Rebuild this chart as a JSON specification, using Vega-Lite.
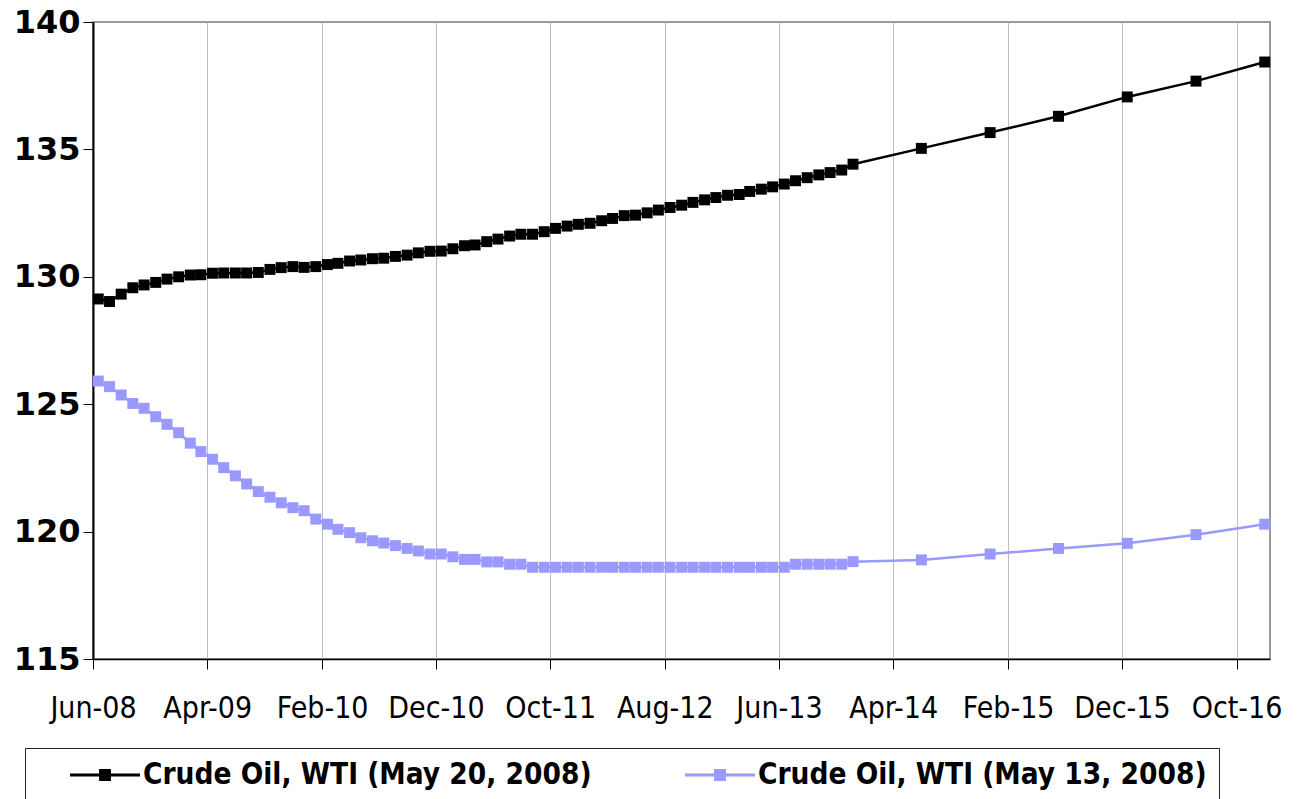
{
  "$schema": "https://vega.github.io/schema/vega-lite/v6.json",
  "width": 1177,
  "height": 637,
  "autosize": {"type": "none"},
  "padding": {"left": 93, "top": 22, "right": 32, "bottom": 140},
  "background": "white",
  "config": {"view": {"stroke": "#9a9a9a", "strokeWidth": 2}},
  "data": {"values": [
    {"date": "2008-06-15", "May 20, 2008": 129.13, "May 13, 2008": 125.91},
    {"date": "2008-07-15", "May 20, 2008": 129.03, "May 13, 2008": 125.69},
    {"date": "2008-08-15", "May 20, 2008": 129.32, "May 13, 2008": 125.36},
    {"date": "2008-09-15", "May 20, 2008": 129.57, "May 13, 2008": 125.03},
    {"date": "2008-10-15", "May 20, 2008": 129.68, "May 13, 2008": 124.84},
    {"date": "2008-11-15", "May 20, 2008": 129.78, "May 13, 2008": 124.51},
    {"date": "2008-12-15", "May 20, 2008": 129.91, "May 13, 2008": 124.21},
    {"date": "2009-01-15", "May 20, 2008": 130.00, "May 13, 2008": 123.88},
    {"date": "2009-02-15", "May 20, 2008": 130.07, "May 13, 2008": 123.47},
    {"date": "2009-03-15", "May 20, 2008": 130.08, "May 13, 2008": 123.14},
    {"date": "2009-04-15", "May 20, 2008": 130.14, "May 13, 2008": 122.84},
    {"date": "2009-05-15", "May 20, 2008": 130.15, "May 13, 2008": 122.51},
    {"date": "2009-06-15", "May 20, 2008": 130.15, "May 13, 2008": 122.19},
    {"date": "2009-07-15", "May 20, 2008": 130.15, "May 13, 2008": 121.87},
    {"date": "2009-08-15", "May 20, 2008": 130.17, "May 13, 2008": 121.57},
    {"date": "2009-09-15", "May 20, 2008": 130.29, "May 13, 2008": 121.35},
    {"date": "2009-10-15", "May 20, 2008": 130.36, "May 13, 2008": 121.13},
    {"date": "2009-11-15", "May 20, 2008": 130.40, "May 13, 2008": 120.94},
    {"date": "2009-12-15", "May 20, 2008": 130.37, "May 13, 2008": 120.82},
    {"date": "2010-01-15", "May 20, 2008": 130.40, "May 13, 2008": 120.49},
    {"date": "2010-02-15", "May 20, 2008": 130.48, "May 13, 2008": 120.29},
    {"date": "2010-03-15", "May 20, 2008": 130.53, "May 13, 2008": 120.09},
    {"date": "2010-04-15", "May 20, 2008": 130.62, "May 13, 2008": 119.96},
    {"date": "2010-05-15", "May 20, 2008": 130.66, "May 13, 2008": 119.76},
    {"date": "2010-06-15", "May 20, 2008": 130.71, "May 13, 2008": 119.64},
    {"date": "2010-07-15", "May 20, 2008": 130.73, "May 13, 2008": 119.55},
    {"date": "2010-08-15", "May 20, 2008": 130.80, "May 13, 2008": 119.45},
    {"date": "2010-09-15", "May 20, 2008": 130.85, "May 13, 2008": 119.34},
    {"date": "2010-10-15", "May 20, 2008": 130.94, "May 13, 2008": 119.24},
    {"date": "2010-11-15", "May 20, 2008": 131.00, "May 13, 2008": 119.12},
    {"date": "2010-12-15", "May 20, 2008": 131.01, "May 13, 2008": 119.12},
    {"date": "2011-01-15", "May 20, 2008": 131.10, "May 13, 2008": 119.01},
    {"date": "2011-02-15", "May 20, 2008": 131.22, "May 13, 2008": 118.91},
    {"date": "2011-03-15", "May 20, 2008": 131.25, "May 13, 2008": 118.91},
    {"date": "2011-04-15", "May 20, 2008": 131.38, "May 13, 2008": 118.81},
    {"date": "2011-05-15", "May 20, 2008": 131.48, "May 13, 2008": 118.81},
    {"date": "2011-06-15", "May 20, 2008": 131.60, "May 13, 2008": 118.72},
    {"date": "2011-07-15", "May 20, 2008": 131.67, "May 13, 2008": 118.72},
    {"date": "2011-08-15", "May 20, 2008": 131.67, "May 13, 2008": 118.60},
    {"date": "2011-09-15", "May 20, 2008": 131.77, "May 13, 2008": 118.60},
    {"date": "2011-10-15", "May 20, 2008": 131.90, "May 13, 2008": 118.60},
    {"date": "2011-11-15", "May 20, 2008": 131.99, "May 13, 2008": 118.60},
    {"date": "2011-12-15", "May 20, 2008": 132.06, "May 13, 2008": 118.60},
    {"date": "2012-01-15", "May 20, 2008": 132.10, "May 13, 2008": 118.60},
    {"date": "2012-02-15", "May 20, 2008": 132.20, "May 13, 2008": 118.60},
    {"date": "2012-03-15", "May 20, 2008": 132.29, "May 13, 2008": 118.60},
    {"date": "2012-04-15", "May 20, 2008": 132.40, "May 13, 2008": 118.60},
    {"date": "2012-05-15", "May 20, 2008": 132.42, "May 13, 2008": 118.60},
    {"date": "2012-06-15", "May 20, 2008": 132.51, "May 13, 2008": 118.60},
    {"date": "2012-07-15", "May 20, 2008": 132.62, "May 13, 2008": 118.60},
    {"date": "2012-08-15", "May 20, 2008": 132.72, "May 13, 2008": 118.60},
    {"date": "2012-09-15", "May 20, 2008": 132.81, "May 13, 2008": 118.60},
    {"date": "2012-10-15", "May 20, 2008": 132.92, "May 13, 2008": 118.60},
    {"date": "2012-11-15", "May 20, 2008": 133.02, "May 13, 2008": 118.60},
    {"date": "2012-12-15", "May 20, 2008": 133.11, "May 13, 2008": 118.60},
    {"date": "2013-01-15", "May 20, 2008": 133.20, "May 13, 2008": 118.60},
    {"date": "2013-02-15", "May 20, 2008": 133.23, "May 13, 2008": 118.60},
    {"date": "2013-03-15", "May 20, 2008": 133.35, "May 13, 2008": 118.60},
    {"date": "2013-04-15", "May 20, 2008": 133.44, "May 13, 2008": 118.60},
    {"date": "2013-05-15", "May 20, 2008": 133.53, "May 13, 2008": 118.60},
    {"date": "2013-06-15", "May 20, 2008": 133.64, "May 13, 2008": 118.60},
    {"date": "2013-07-15", "May 20, 2008": 133.77, "May 13, 2008": 118.72},
    {"date": "2013-08-15", "May 20, 2008": 133.89, "May 13, 2008": 118.72},
    {"date": "2013-09-15", "May 20, 2008": 134.00, "May 13, 2008": 118.72},
    {"date": "2013-10-15", "May 20, 2008": 134.09, "May 13, 2008": 118.72},
    {"date": "2013-11-15", "May 20, 2008": 134.19, "May 13, 2008": 118.72},
    {"date": "2013-12-15", "May 20, 2008": 134.42, "May 13, 2008": 118.82},
    {"date": "2014-06-15", "May 20, 2008": 135.04, "May 13, 2008": 118.89},
    {"date": "2014-12-15", "May 20, 2008": 135.66, "May 13, 2008": 119.12},
    {"date": "2015-06-15", "May 20, 2008": 136.30, "May 13, 2008": 119.34},
    {"date": "2015-12-15", "May 20, 2008": 137.06, "May 13, 2008": 119.54},
    {"date": "2016-06-15", "May 20, 2008": 137.68, "May 13, 2008": 119.88},
    {"date": "2016-12-15", "May 20, 2008": 138.43, "May 13, 2008": 120.29}
  ]},
  "transform": [{"fold": ["May 20, 2008", "May 13, 2008"], "as": ["series", "price"]}],
  "mark": {"type": "line", "strokeWidth": 2.5, "point": {"shape": "square", "size": 120, "filled": true}},
  "encoding": {
    "x": {
      "field": "date",
      "type": "temporal",
      "scale": {"type": "utc", "domain": [{"year": 2008, "month": 6, "date": 1, "utc": true}, {"year": 2016, "month": 12, "date": 29, "utc": true}]},
      "axis": {
        "title": null,
        "values": [
          {"year": 2008, "month": 6, "date": 1, "utc": true},
          {"year": 2009, "month": 4, "date": 1, "utc": true},
          {"year": 2010, "month": 2, "date": 1, "utc": true},
          {"year": 2010, "month": 12, "date": 1, "utc": true},
          {"year": 2011, "month": 10, "date": 1, "utc": true},
          {"year": 2012, "month": 8, "date": 1, "utc": true},
          {"year": 2013, "month": 6, "date": 1, "utc": true},
          {"year": 2014, "month": 4, "date": 1, "utc": true},
          {"year": 2015, "month": 2, "date": 1, "utc": true},
          {"year": 2015, "month": 12, "date": 1, "utc": true},
          {"year": 2016, "month": 10, "date": 1, "utc": true}
        ],
        "format": "%b-%y",
        "grid": true,
        "gridColor": "#bdbdbd",
        "gridWidth": 1,
        "tickColor": "#000000",
        "tickSize": 10,
        "tickWidth": 1,
        "domainColor": "#000000",
        "domainWidth": 1.5,
        "labelFont": "DejaVu Sans Condensed",
        "labelFontSize": 30,
        "labelColor": "#000000",
        "labelPadding": 24,
        "labelFlush": false,
        "labelOverlap": false
      }
    },
    "y": {
      "field": "price",
      "type": "quantitative",
      "scale": {"domain": [115, 140], "nice": false, "zero": false},
      "axis": {
        "title": null,
        "values": [115, 120, 125, 130, 135, 140],
        "grid": false,
        "tickColor": "#000000",
        "tickSize": 10,
        "tickWidth": 1,
        "domainColor": "#000000",
        "domainWidth": 2,
        "labelFont": "DejaVu Sans",
        "labelFontWeight": "bold",
        "labelFontSize": 32,
        "labelColor": "#000000",
        "labelPadding": 3
      }
    },
    "color": {
      "field": "series",
      "type": "nominal",
      "scale": {"domain": ["May 20, 2008", "May 13, 2008"], "range": ["#000000", "#9999ff"]},
      "legend": {
        "title": null,
        "orient": "none",
        "legendX": -68,
        "legendY": 726,
        "direction": "horizontal",
        "columns": 2,
        "strokeColor": "#222222",
        "fillColor": "#ffffff",
        "padding": 12,
        "symbolType": "M-1,-0.045L1,-0.045L1,0.045L-1,0.045Z M-0.17,-0.17L0.17,-0.17L0.17,0.17L-0.17,0.17Z",
        "symbolSize": 4900,
        "symbolStrokeWidth": 0,
        "symbolOffset": 33,
        "clipHeight": 30,
        "labelOffset": 3,
        "columnPadding": 60,
        "labelFont": "DejaVu Sans Condensed",
        "labelFontWeight": "bold",
        "labelFontSize": 29.5,
        "labelColor": "#000000",
        "labelLimit": 800,
        "labelExpr": "datum.value == 'May 13, 2008' ? 'Crude Oil, WTI (' + datum.label + ')\u00a0\u00a0\u00a0' : 'Crude Oil, WTI (' + datum.label + ')'",
        "encode": {"symbols": {"update": {"fill": {"scale": "color", "field": "value"}, "opacity": {"value": 1}}}}
      }
    }
  }
}
